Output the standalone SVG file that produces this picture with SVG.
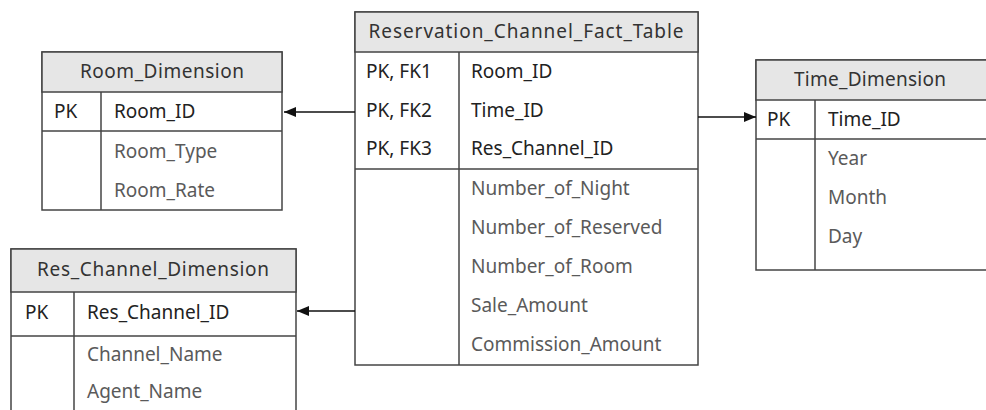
<svg xmlns="http://www.w3.org/2000/svg" width="986" height="410" viewBox="0 0 986 410">
  <defs>
    <marker id="arrow" viewBox="0 0 12 10" refX="12" refY="5" markerWidth="12" markerHeight="10" markerUnits="userSpaceOnUse" orient="auto">
      <path d="M0,0 L12,5 L0,10 Z" fill="#111"/>
    </marker>
  </defs>
  <style>
    .box { fill: #fff; stroke: #444; stroke-width: 1.5; }
    .head { fill: #e6e6e6; stroke: #444; stroke-width: 1.5; }
    .rule { stroke: #444; stroke-width: 1.5; fill: none; }
    text { font-family: "Noto Sans", "Open Sans", sans-serif; font-size: 19px; }
    .title { fill: #333; text-anchor: middle; }
    .key { fill: #222; }
    .attr { fill: #5a5a5a; }
    .conn { stroke: #111; stroke-width: 1.3; fill: none; marker-end: url(#arrow); }
  </style>

  <rect width="986" height="410" fill="#fff"/>

  <!-- Room dimension -->
  <g id="room_dimension">
    <rect class="box" x="42" y="52" width="240" height="158"/>
    <rect class="head" x="42" y="52" width="240" height="40"/>
    <line class="rule" x1="42" y1="131" x2="282" y2="131"/>
    <line class="rule" x1="101" y1="92" x2="101" y2="210"/>
    <text class="title" x="162" y="78" textLength="164" lengthAdjust="spacing">Room_Dimension</text>
    <text class="key" x="54" y="118">PK</text>
    <text class="key" x="114" y="118">Room_ID</text>
    <text class="attr" x="114" y="158">Room_Type</text>
    <text class="attr" x="114" y="197">Room_Rate</text>
  </g>

  <!-- Reservation channel dimension -->
  <g id="res_channel_dimension">
    <rect class="box" x="11" y="249" width="285" height="170"/>
    <rect class="head" x="11" y="249" width="285" height="43"/>
    <line class="rule" x1="11" y1="336" x2="296" y2="336"/>
    <line class="rule" x1="74" y1="292" x2="74" y2="419"/>
    <text class="title" x="153" y="276" textLength="232" lengthAdjust="spacing">Res_Channel_Dimension</text>
    <text class="key" x="25" y="319">PK</text>
    <text class="key" x="87" y="319">Res_Channel_ID</text>
    <text class="attr" x="87" y="361">Channel_Name</text>
    <text class="attr" x="87" y="398">Agent_Name</text>
  </g>

  <!-- Fact table -->
  <g id="fact_table">
    <rect class="box" x="355" y="12" width="343" height="353"/>
    <rect class="head" x="355" y="12" width="343" height="40"/>
    <line class="rule" x1="355" y1="169" x2="698" y2="169"/>
    <line class="rule" x1="459" y1="52" x2="459" y2="365"/>
    <text class="title" x="526" y="38" textLength="315" lengthAdjust="spacing">Reservation_Channel_Fact_Table</text>
    <text class="key" x="366" y="78">PK, FK1</text>
    <text class="key" x="366" y="117">PK, FK2</text>
    <text class="key" x="366" y="155">PK, FK3</text>
    <text class="key" x="471" y="78">Room_ID</text>
    <text class="key" x="471" y="117">Time_ID</text>
    <text class="key" x="471" y="155">Res_Channel_ID</text>
    <text class="attr" x="471" y="195">Number_of_Night</text>
    <text class="attr" x="471" y="234">Number_of_Reserved</text>
    <text class="attr" x="471" y="273">Number_of_Room</text>
    <text class="attr" x="471" y="312">Sale_Amount</text>
    <text class="attr" x="471" y="351">Commission_Amount</text>
  </g>

  <!-- Time dimension -->
  <g id="time_dimension">
    <rect class="box" x="756" y="60" width="240" height="210"/>
    <rect class="head" x="756" y="60" width="240" height="40"/>
    <line class="rule" x1="756" y1="139" x2="996" y2="139"/>
    <line class="rule" x1="815" y1="100" x2="815" y2="270"/>
    <text class="title" x="870" y="86" textLength="152" lengthAdjust="spacing">Time_Dimension</text>
    <text class="key" x="767" y="126">PK</text>
    <text class="key" x="828" y="126">Time_ID</text>
    <text class="attr" x="828" y="165">Year</text>
    <text class="attr" x="828" y="204">Month</text>
    <text class="attr" x="828" y="243">Day</text>
  </g>

  <!-- Connectors -->
  <g id="connectors">
    <line class="conn" x1="355" y1="112" x2="284" y2="112"/>
    <line class="conn" x1="355" y1="311" x2="297" y2="311"/>
    <line class="conn" x1="698" y1="117" x2="756" y2="117"/>
  </g>
</svg>
